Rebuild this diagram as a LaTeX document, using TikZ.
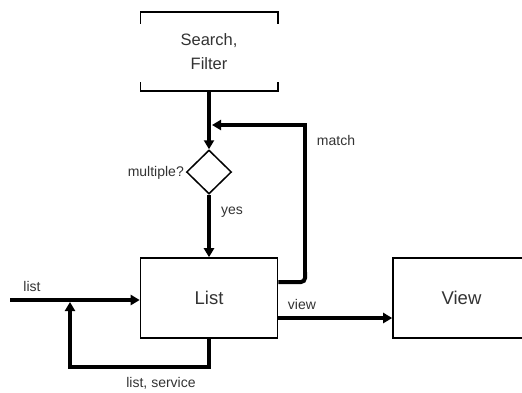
\documentclass[tikz,border=0pt]{standalone}
\usepackage{fontspec}
\setmainfont{Liberation Sans}
\usetikzlibrary{arrows.meta,shapes.geometric}
\definecolor{txt}{HTML}{333333}
\tikzset{
  box/.style={draw=black, line width=1.6pt, minimum width=137pt, minimum height=80pt, inner sep=0pt, text=txt},
  bigtext/.style={font=\fontsize{18.5}{22}\selectfont},
  lbl/.style={text=txt, font=\fontsize{14}{16}\selectfont, inner sep=0pt},
  conn/.style={draw=black, line width=4pt},
  arr/.style={conn, -{Triangle[length=9pt,width=10pt]}},
}
\begin{document}
\begin{tikzpicture}[x=1pt,y=-1pt]
\useasboundingbox (0,0) rectangle (522,392);
\clip (0,0) rectangle (522,392);
% nodes
\node[minimum width=137pt, minimum height=79pt, inner sep=0pt, text=txt, align=center,
      font=\fontsize{16.5}{24}\selectfont] (search) at (209,51.5) {Search,\\Filter};
\draw[line width=1.6pt] ([yshift=-12pt]search.north west) -- (search.north west) -- (search.north east) -- ([yshift=-12pt]search.north east);
\draw[line width=1.6pt] ([yshift=9pt]search.south west) -- (search.south west) -- (search.south east) -- ([yshift=9pt]search.south east);
\node[draw=black, line width=1.5pt, diamond, minimum width=45pt, minimum height=44pt, inner sep=0pt] (dia) at (209,172) {};
\node[box, bigtext] (list) at (209,298) {List};
\node[box, bigtext] (view) at (461.5,298) {View};
% coordinates
\coordinate (mb) at (305,282);
\coordinate (mt) at (305,125);
\coordinate (mj) at (212,125);
\coordinate (in) at (10,300);
\coordinate (fb) at (70,367);
\coordinate (fbend) at (70,302);
% connectors
\draw[arr] (search.south) -- (dia.north);
\draw[arr] (dia.south) -- (list.north);
\draw[conn, rounded corners=4pt] (list.east |- mb) -- (mb) -- ([yshift=10pt]mb);
\draw[arr] ([yshift=9pt]mb) -- (mt) -- (mj);
\draw[arr] (in) -- (list.west |- in);
\draw[arr] (list.south) |- (fb) -- (fbend);
\draw[arr] ([yshift=-20pt]list.east) -- ([yshift=-20pt]view.west);
% labels
\node[lbl] (l1) at (32,286) {list};
\node[lbl] (l2) at (161,383) {list, service};
\node[lbl] (l3) at (302,304) {view};
\node[lbl] (l4) at (336,140) {match};
\node[lbl] (l5) at (232,212) {yes};
\node[lbl, anchor=east] (l6) at (184,173) {multiple?};
\end{tikzpicture}
\end{document}
